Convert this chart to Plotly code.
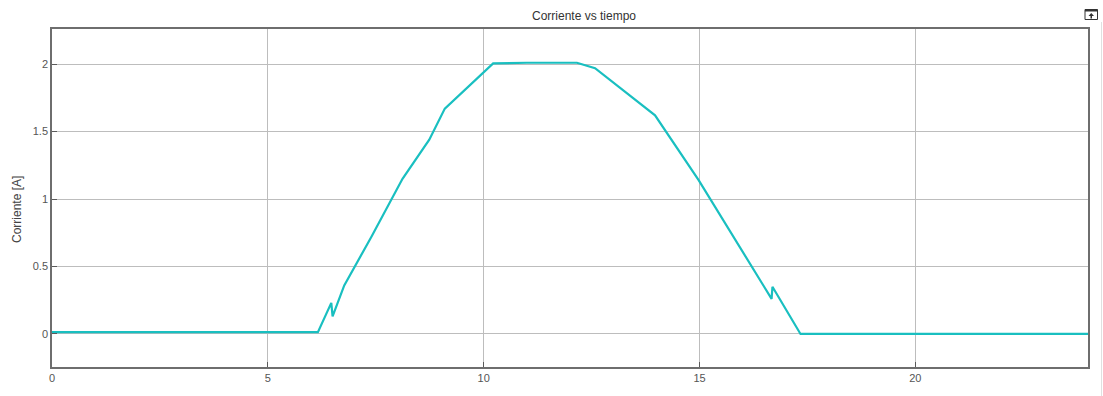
import plotly.graph_objects as go

# Current waveform samples: time [s] and current [A]
tiempo = [0.0, 6.16, 6.47, 6.50, 6.77, 7.40, 8.12, 8.74, 9.10,
          9.97, 10.22, 11.0, 12.16, 12.58, 13.06, 13.97, 14.98,
          16.67, 16.69, 17.34, 24.0]
corriente = [0.013, 0.013, 0.23, 0.13, 0.36, 0.72, 1.15, 1.44, 1.67,
             1.93, 2.005, 2.01, 2.01, 1.97, 1.85, 1.62, 1.14,
             0.26, 0.35, 0.0, 0.0]

x_ticks = [0, 5, 10, 15, 20]
y_ticks = [0, 0.5, 1, 1.5, 2]
y_tick_text = ["0", "0.5", "1", "1.5", "2"]

W, H = 1103, 396
L, R, T, B = 52, 15, 29, 29
pw, ph = W - L - R, H - T - B

def px(x):
    return (x - L) / pw

def py(y):
    return (H - B - y) / ph

fig = go.Figure()
fig.add_trace(go.Scatter(
    x=tiempo, y=corriente, mode="lines",
    line=dict(color="#19BFC0", width=2.2),
    hoverinfo="skip", showlegend=False,
))

axis_common = dict(
    showgrid=True, gridcolor="#bdbdbd", gridwidth=1,
    showline=True, linecolor="#6e6e6e", linewidth=1.5, mirror=True,
    ticks="inside", ticklen=5, tickcolor="#5a5a5a", tickwidth=1,
    zeroline=False,
    tickfont=dict(family="Liberation Sans, Arial", size=11, color="#555555"),
)

fig.update_layout(
    width=W, height=H,
    margin=dict(l=L, r=R, t=T, b=B),
    paper_bgcolor="white", plot_bgcolor="white",
    title=dict(text="Corriente vs tiempo", x=584 / W, xanchor="center",
               y=1 - 16 / H, yanchor="middle",
               font=dict(family="Liberation Sans, Arial", size=12, color="#333333")),
    xaxis=dict(range=[0, 24], tickvals=x_ticks, **axis_common),
    yaxis=dict(range=[-0.245, 2.26], tickvals=y_ticks, ticktext=y_tick_text,
               **axis_common),
)

# Y-axis label
fig.add_annotation(text="Corriente [A]", xref="paper", yref="paper",
                   x=px(17), y=py(210), xanchor="center", yanchor="middle",
                   textangle=-90, showarrow=False,
                   font=dict(family="Liberation Sans, Arial", size=12, color="#444444"))

# Small toolbar icon at the top-right corner
fig.add_shape(type="rect", xref="paper", yref="paper",
              x0=px(1085), x1=px(1097.5), y0=py(19.5), y1=py(9.5),
              line=dict(color="#333333", width=1), fillcolor="white")
fig.add_shape(type="rect", xref="paper", yref="paper",
              x0=px(1085), x1=px(1097.5), y0=py(11.5), y1=py(9.5),
              line=dict(width=0), fillcolor="#333333")
fig.add_shape(type="path", xref="paper", yref="paper",
              path=(f"M {px(1091.25)},{py(13)} L {px(1088.5)},{py(16)} L {px(1090.5)},{py(16)} "
                    f"L {px(1090.5)},{py(18.5)} L {px(1092)},{py(18.5)} L {px(1092)},{py(16)} "
                    f"L {px(1094)},{py(16)} Z"),
              line=dict(width=0), fillcolor="#333333")
# Light window edge on the right
fig.add_shape(type="line", xref="paper", yref="paper",
              x0=px(1101.5), x1=px(1101.5), y0=py(396), y1=py(22),
              line=dict(color="#e0e0e0", width=1))

fig.write_html("out.html")
